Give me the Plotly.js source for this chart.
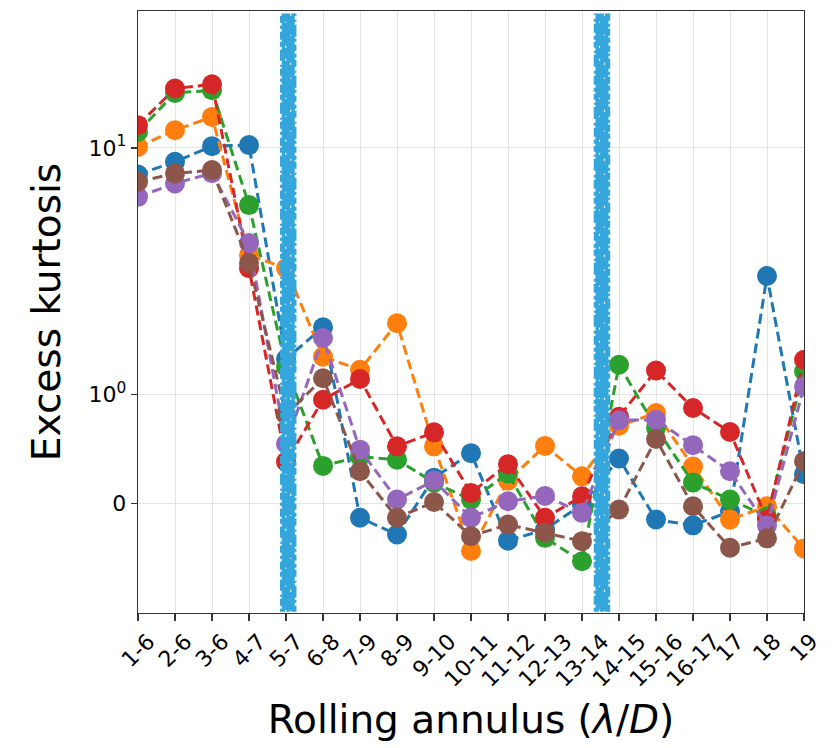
<!DOCTYPE html>
<html>
<head>
<meta charset="utf-8">
<script src="https://cdn.plot.ly/plotly-3.0.1.min.js"></script>
<style>
  html, body { margin: 0; padding: 0; background: #ffffff; }
  #chart { width: 836px; height: 748px; }
</style>
</head>
<body>
<div id="chart"></div>
<script>
// Annulus bins along the x axis (lambda/D)
const annuli = ['1-6', '2-6', '3-6', '4-7', '5-7', '6-8', '7-9', '8-9', '9-10', '10-11',
                '11-12', '12-13', '13-14', '14-15', '15-16', '16-17', '17', '18', '19'];

// Excess kurtosis per annulus, one array per series
const kurtBlue   = [7.8, 8.78, 10.17, 10.27, 1.39, 1.87, -0.13, -0.283, 0.237, 0.461, -0.339, -0.237, -0.009, 0.412, -0.146, -0.199, -0.073, 3.02, 0.269];
const kurtOrange = [10.1, 11.81, 13.37, 3.67, 3.25, 1.42, 1.256, 1.943, 0.523, -0.433, 0.21, 0.527, 0.249, 0.712, 0.828, 0.338, -0.146, -0.025, -0.411];
const kurtGreen  = [11.62, 16.73, 17.16, 5.86, 1.29, 0.344, 0.429, 0.401, 0.192, 0.0365, 0.274, -0.313, -0.527, 1.316, 0.693, 0.192, 0.0365, -0.116, 1.236];
const kurtRed    = [12.38, 17.43, 18.15, 3.25, 0.383, 0.949, 1.152, 0.523, 0.651, 0.0977, 0.36, -0.13, 0.0666, 0.794, 1.248, 0.873, 0.654, -0.146, 1.379];
const kurtPurple = [6.33, 7.18, 7.9, 4.11, 0.547, 1.69, 0.493, 0.0365, 0.21, -0.13, 0.021, 0.0703, -0.0849, 0.762, 0.766, 0.534, 0.295, -0.201, 1.075];
const kurtBrown  = [7.29, 7.88, 8.13, 3.41, 0.812, 1.16, 0.295, -0.13, 0.014, -0.298, -0.192, -0.267, -0.344, -0.0547, 0.59, -0.0246, -0.404, -0.318, 0.386];

const seriesList   = [kurtBlue, kurtOrange, kurtGreen, kurtRed, kurtPurple, kurtBrown];
const seriesColors = ['#1f77b4', '#ff7f0e', '#2ca02c', '#d62728', '#9467bd', '#8c564b'];

// Annulus boundaries marked with thick vertical bands (x in bin index units)
const boundaryPositions = [4.06, 12.54];

// y axis ticks
const yTickValues = [0, 1, 10];
const yTickLabels = ['0', '10<sup>0</sup>', '10<sup>1</sup>'];
const yLimits = [-1, 36];

// Symmetric log scale (linear within +/-1, log10 beyond)
const LINTHRESH = 1, LINSCALE = 0.4, BASE = 10;
const linAdj = LINSCALE / (1 - 1 / BASE);
function symlog(v) {
  const a = Math.abs(v);
  if (a <= LINTHRESH) return v * linAdj;
  return Math.sign(v) * LINTHRESH * (linAdj + Math.log(a / LINTHRESH) / Math.log(BASE));
}

const xIdx = annuli.map((_, i) => i);
const FONT = 'DejaVu Sans, Arial, sans-serif';

const traces = seriesList.map((vals, k) => ({
  type: 'scatter',
  mode: 'lines+markers',
  x: xIdx,
  y: vals.map(symlog),
  customdata: vals,
  hovertemplate: '%{customdata}<extra></extra>',
  line: { color: seriesColors[k], width: 3, dash: '10px,5px' },
  marker: { color: seriesColors[k], size: 20, line: { width: 0 } },
  showlegend: false
}));

// Plot geometry used to convert pixel offsets for the rough band edges
const margin = { l: 138, r: 32, t: 11, b: 135 };
const plotW = 836 - margin.l - margin.r;
const pxPerUnit = plotW / (annuli.length - 1);
const bandColor = '#35a6dc';

const shapes = [];
boundaryPositions.forEach((xb, j) => {
  const mk = (dxPx, width, color, dash) => ({
    type: 'line', xref: 'x', yref: 'paper', layer: 'above',
    x0: xb + dxPx / pxPerUnit, x1: xb + dxPx / pxPerUnit, y0: 0.002, y1: 0.996,
    line: { color: color, width: width, dash: dash }
  });
  shapes.push(mk(0, 13, bandColor, 'solid'));
  shapes.push(mk(-7, 2.5, bandColor, j ? '4px,3px,9px,2px,3px,4px,12px,2px,2px,3px,6px,2px' : '3px,3px,7px,2px,2px,4px,11px,3px,5px,2px,8px,3px'));
  shapes.push(mk(7, 2.5, bandColor, j ? '7px,2px,3px,3px,10px,3px,2px,2px,6px,3px,5px,2px' : '6px,3px,3px,2px,12px,3px,2px,4px,7px,2px,4px,3px'));
  shapes.push(mk(2.5, 1.2, '#ffffff', '1px,19px,2px,31px,1px,13px,2px,27px'));
  shapes.push(mk(-2.5, 1.2, '#ffffff', '2px,23px,1px,17px,1px,37px,2px,11px'));
});

// Rotated category labels, centred under each tick
const annotations = annuli.map((lab, i) => ({
  x: i, xref: 'x', y: 0, yref: 'paper',
  text: lab, showarrow: false, textangle: -45,
  xanchor: 'center', yanchor: 'top', yshift: -13,
  font: { family: FONT, size: 22, color: '#000000' }
}));

const layout = {
  width: 836, height: 748,
  margin: margin,
  paper_bgcolor: '#ffffff',
  plot_bgcolor: '#ffffff',
  font: { family: FONT, color: '#000000' },
  showlegend: false,
  xaxis: {
    range: [0, annuli.length - 1],
    tickvals: xIdx,
    showticklabels: false,
    ticks: 'outside', ticklen: 7, tickwidth: 1.2, tickcolor: '#333333',
    showgrid: true, gridcolor: '#e4e4e4', gridwidth: 1,
    zeroline: false,
    showline: true, linecolor: '#333333', linewidth: 1.3, mirror: true,
    title: { text: 'Rolling annulus (<i>λ</i>/<i>D</i>)', font: { family: FONT, size: 39, color: '#000000' }, standoff: 85 }
  },
  yaxis: {
    range: yLimits.map(symlog),
    tickvals: yTickValues.map(symlog),
    ticktext: yTickLabels,
    ticks: 'outside', ticklen: 6, tickwidth: 1.2, tickcolor: '#333333',
    tickfont: { family: FONT, size: 22, color: '#000000' },
    showgrid: true, gridcolor: '#e4e4e4', gridwidth: 1,
    zeroline: false,
    showline: true, linecolor: '#333333', linewidth: 1.3, mirror: true,
    title: { text: 'Excess kurtosis', font: { family: FONT, size: 39, color: '#000000' }, standoff: 16 }
  },
  shapes: shapes,
  annotations: annotations
};

Plotly.newPlot('chart', traces, layout, { displayModeBar: false, staticPlot: true });
</script>
</body>
</html>
